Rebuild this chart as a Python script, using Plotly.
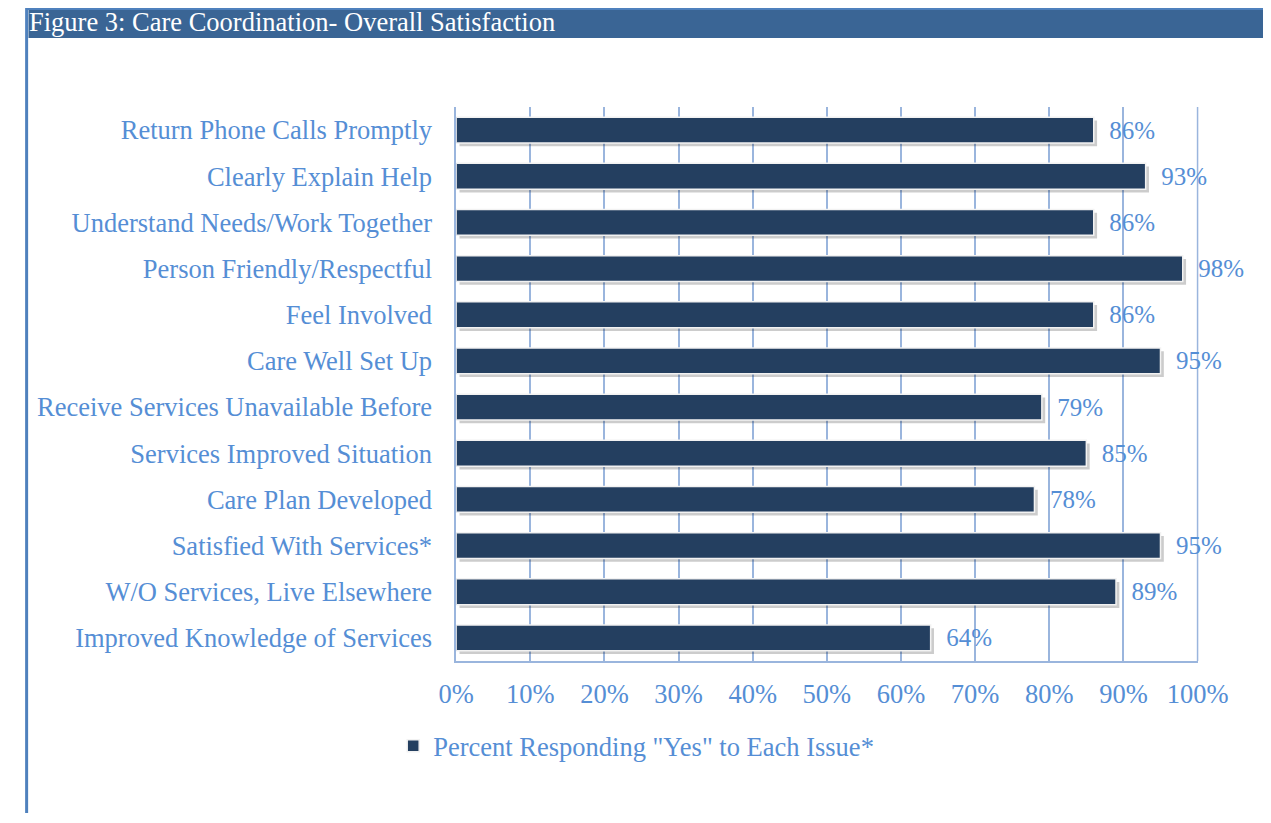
import plotly.graph_objects as go

categories = [
    "Return Phone Calls Promptly",
    "Clearly Explain Help",
    "Understand Needs/Work Together",
    "Person Friendly/Respectful",
    "Feel Involved",
    "Care Well Set Up",
    "Receive Services Unavailable Before",
    "Services Improved Situation",
    "Care Plan Developed",
    "Satisfied With Services*",
    "W/O Services, Live Elsewhere",
    "Improved Knowledge of Services",
]
values = [86, 93, 86, 98, 86, 95, 79, 85, 78, 95, 89, 64]
x_ticks = [0, 10, 20, 30, 40, 50, 60, 70, 80, 90, 100]
x_tick_labels = [f"{t}%" for t in x_ticks]
series_name = 'Percent Responding "Yes" to Each Issue*'
title_text = "Figure 3: Care Coordination- Overall Satisfaction"

W, H = 1295, 805
# measured placement of the figure on the photographed page
SX0, SXW = 24.5, 1247.0
SY0 = 8
FONT = "Liberation Serif"
FS = 26.5
FS_LBL = 25
LABEL_BLUE = "#558ed5"
BAR = "#243f60"
GRID = "#9ab5dd"


def px_x(p):
    return (p - SX0) / SXW


def px_y(p):
    return 1 - (p - SY0) / H


fig = go.Figure()

# soft shadow under bars
fig.add_trace(go.Bar(
    y=categories, x=values, orientation="h",
    marker=dict(color="rgba(0,0,0,0.2)", line=dict(width=0)),
    width=0.56, offset=-0.21, base=0.45,
    showlegend=False, hoverinfo="skip",
))
fig.add_trace(go.Bar(
    y=categories, x=values, orientation="h", name=series_name,
    marker=dict(color=BAR, line=dict(color="#f2f2f2", width=1.5)),
    width=0.56, offset=-0.28,
    text=[f"\u00a0\u00a0{v}%" for v in values],
    textposition="outside", cliponaxis=False, constraintext="none",
    textfont=dict(family=FONT, size=FS_LBL, color=LABEL_BLUE),
))

fig.update_layout(
    width=W, height=H,
    margin=dict(l=0, r=0, t=0, b=0),
    paper_bgcolor="white", plot_bgcolor="white",
    barmode="overlay",
    font=dict(family=FONT, size=FS, color=LABEL_BLUE),
    showlegend=True,
    legend=dict(
        orientation="h", x=px_x(392), xanchor="left",
        y=px_y(746), yanchor="middle",
        font=dict(family=FONT, size=FS, color=LABEL_BLUE),
        itemwidth=30, bgcolor="rgba(0,0,0,0)",
    ),
    xaxis=dict(
        domain=[px_x(455), px_x(1197)],
        range=[0, 100], tickvals=x_ticks, ticktext=x_tick_labels,
        showgrid=True, gridcolor=GRID, gridwidth=1.5,
        showline=True, linecolor=GRID, linewidth=1.5,
        zeroline=False, ticks="", ticklabelstandoff=8,
        tickfont=dict(family=FONT, size=FS, color=LABEL_BLUE),
        fixedrange=True,
    ),
    yaxis=dict(
        domain=[px_y(661), px_y(107)],
        autorange="reversed",
        showgrid=False, showline=True, linecolor=GRID, linewidth=1.5,
        ticks="", ticklabelstandoff=17,
        tickfont=dict(family=FONT, size=FS, color=LABEL_BLUE),
        fixedrange=True,
    ),
    shapes=[
        dict(type="rect", xref="paper", yref="paper",
             x0=0.002, x1=1, y0=px_y(38), y1=1,
             fillcolor="#3a6595", line=dict(width=0), layer="below"),
        dict(type="line", xref="paper", yref="paper",
             x0=0, x1=1, y0=px_y(9), y1=px_y(9),
             line=dict(color="#4f81bd", width=2)),
        dict(type="line", xref="paper", yref="paper",
             x0=0.0005, x1=0.0005, y0=0, y1=1,
             line=dict(color="#4f81bd", width=3)),
        dict(type="line", xref="paper", yref="paper",
             x0=px_x(1197), x1=px_x(1197), y0=px_y(661), y1=px_y(107),
             line=dict(color=GRID, width=1.5), layer="below"),
    ],
    annotations=[
        dict(text=title_text, xref="paper", yref="paper",
             x=px_x(26), y=px_y(22), xanchor="left", yanchor="middle",
             showarrow=False, font=dict(family=FONT, size=FS, color="white")),
    ],
)

fig.write_html("out.html")
